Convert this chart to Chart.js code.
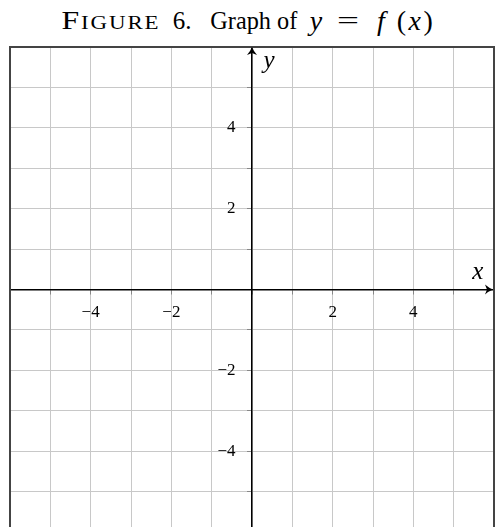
<!DOCTYPE html>
<html>
<head>
    <title>Figure 6. Graph of y = f(x)</title>
    <style>
        body {
            margin: 0;
            background: #ffffff;
            overflow: hidden;
            width: 495px;
            height: 527px;
            position: relative;
        }
        #title span {
            position: absolute;
            top: 8px;
            font-family: 'Liberation Serif', serif;
            font-size: 25px;
            line-height: 25px;
            color: #000;
            white-space: nowrap;
            transform-origin: 50% 0;
        }
        #title .sc {
            font-variant: small-caps;
            letter-spacing: 1.5px;
        }
        #title .it {
            font-style: italic;
        }
        #title .m {
            font-size: 28px;
            line-height: 25px;
        }
        #title .par {
            letter-spacing: 2.5px;
        }
        #graph {
            position: absolute;
            left: 0;
            top: 0;
        }
    </style>
    <script src="https://cdn.jsdelivr.net/npm/chart.js"></script>
</head>
<body>
    <!-- data-l / data-r: stretch over that span; data-c: centre on that x -->
    <div id="title">
        <span class="sc" data-l="61" data-r="160">Figure</span>
        <span data-c="182">6.</span>
        <span data-l="210" data-r="297">Graph of</span>
        <span class="it m" data-c="316">y</span>
        <span data-l="337" data-r="359">=</span>
        <span class="it m" data-c="381">f</span>
        <span class="m par" data-c="416">(<i>x</i>)</span>
    </div>
    <canvas id="graph" width="495" height="540"></canvas>
    <script>
        // axis window and grid
        const xMin = -6, xMax = 6;
        const yMin = -6, yMax = 6;
        const gridStep = 1;

        // labelled ticks
        const xTickValues = [-4, -2, 2, 4];
        const xTickLabels = ['\u22124', '\u22122', '2', '4'];
        const yTickValues = [-4, -2, 2, 4];
        const yTickLabels = ['\u22124', '\u22122', '2', '4'];

        // axis names
        const xAxisName = 'x';
        const yAxisName = 'y';

        // the graph of f is left blank on the sheet
        const curveX = [];
        const curveY = [];

        // place the title pieces where they sit in the figure
        document.querySelectorAll('#title span').forEach(el => {
            const w = el.getBoundingClientRect().width;
            if (el.dataset.c) {
                el.style.left = (+el.dataset.c - w / 2) + 'px';
            } else {
                const l = +el.dataset.l, r = +el.dataset.r;
                el.style.left = ((l + r) / 2 - w / 2) + 'px';
                el.style.transform = 'scaleX(' + ((r - l) / w).toFixed(3) + ')';
            }
        });

        function tickLabel(values, labels) {
            return function(value) {
                const i = values.indexOf(value);
                return i >= 0 ? labels[i] : '';
            };
        }

        // scales sitting inside the plot must not push the plot area in
        function noPadding(scale) {
            scale.paddingLeft = 0;
            scale.paddingRight = 0;
            scale.paddingTop = 0;
            scale.paddingBottom = 0;
        }

        // frame, arrowheads and axis names
        const decorations = {
            id: 'decorations',
            afterDraw(chart) {
                const ctx = chart.ctx;
                const area = chart.chartArea;
                const xs = chart.scales.x;
                const ys = chart.scales.y;
                const ox = xs.getPixelForValue(0);
                const oy = ys.getPixelForValue(0);

                ctx.save();
                // frame (left, top, right)
                ctx.strokeStyle = '#444';
                ctx.lineWidth = 2;
                ctx.beginPath();
                ctx.moveTo(area.left, area.bottom);
                ctx.lineTo(area.left, area.top);
                ctx.lineTo(area.right, area.top);
                ctx.lineTo(area.right, area.bottom);
                ctx.stroke();

                // arrowheads
                ctx.fillStyle = '#000';
                const tipX = area.right - 1;
                ctx.beginPath();
                ctx.moveTo(tipX, oy);
                ctx.quadraticCurveTo(tipX - 4, oy - 1.5, tipX - 8, oy - 5);
                ctx.lineTo(tipX - 6, oy);
                ctx.lineTo(tipX - 8, oy + 5);
                ctx.quadraticCurveTo(tipX - 4, oy + 1.5, tipX, oy);
                ctx.fill();

                const tipY = area.top;
                ctx.beginPath();
                ctx.moveTo(ox, tipY);
                ctx.quadraticCurveTo(ox - 1.5, tipY + 4, ox - 5, tipY + 8);
                ctx.lineTo(ox, tipY + 6);
                ctx.lineTo(ox + 5, tipY + 8);
                ctx.quadraticCurveTo(ox + 1.5, tipY + 4, ox, tipY);
                ctx.fill();

                // axis names
                ctx.font = 'italic 25px "Liberation Serif", serif';
                ctx.textAlign = 'center';
                ctx.textBaseline = 'alphabetic';
                ctx.fillText(xAxisName, xs.getPixelForValue(5.6), oy - 11);
                ctx.fillText(yAxisName, xs.getPixelForValue(0.42), ys.getPixelForValue(5.48));
                ctx.restore();
            }
        };

        const tickFont = { family: "'Liberation Serif', serif", size: 17 };

        new Chart(document.getElementById('graph').getContext('2d'), {
            type: 'scatter',
            data: {
                datasets: [{
                    data: curveX.map((x, i) => ({ x: x, y: curveY[i] })),
                    borderColor: '#000',
                    showLine: true,
                    pointRadius: 0
                }]
            },
            options: {
                responsive: false,
                animation: false,
                layout: {
                    padding: { left: 10, right: 1, top: 47, bottom: 8 }
                },
                scales: {
                    x: {
                        type: 'linear',
                        min: xMin,
                        max: xMax,
                        position: { y: 0 },
                        afterFit: noPadding,
                        grid: {
                            color: '#c8c8c8',
                            lineWidth: 1,
                            tickLength: 4,
                            tickColor: '#888'
                        },
                        border: { color: '#000', width: 1.5 },
                        ticks: {
                            stepSize: gridStep,
                            autoSkip: false,
                            maxRotation: 0,
                            padding: 9,
                            color: '#000',
                            font: tickFont,
                            callback: tickLabel(xTickValues, xTickLabels)
                        }
                    },
                    y: {
                        type: 'linear',
                        min: yMin,
                        max: yMax,
                        position: { x: 0 },
                        afterFit: noPadding,
                        grid: {
                            color: '#c8c8c8',
                            lineWidth: 1,
                            tickLength: 4,
                            tickColor: '#888'
                        },
                        border: { color: '#000', width: 1.5 },
                        ticks: {
                            stepSize: gridStep,
                            display: false
                        }
                    },
                    // carries the y tick labels, a little left of the y axis
                    yLabels: {
                        type: 'linear',
                        axis: 'y',
                        min: yMin,
                        max: yMax,
                        position: { x: -0.41 },
                        afterFit: noPadding,
                        grid: { display: false, drawTicks: false },
                        border: { display: false },
                        ticks: {
                            stepSize: gridStep,
                            autoSkip: false,
                            padding: 0,
                            color: '#000',
                            font: tickFont,
                            callback: tickLabel(yTickValues, yTickLabels)
                        }
                    }
                },
                plugins: {
                    legend: { display: false },
                    tooltip: { enabled: false }
                }
            },
            plugins: [decorations]
        });
    </script>
</body>
</html>
